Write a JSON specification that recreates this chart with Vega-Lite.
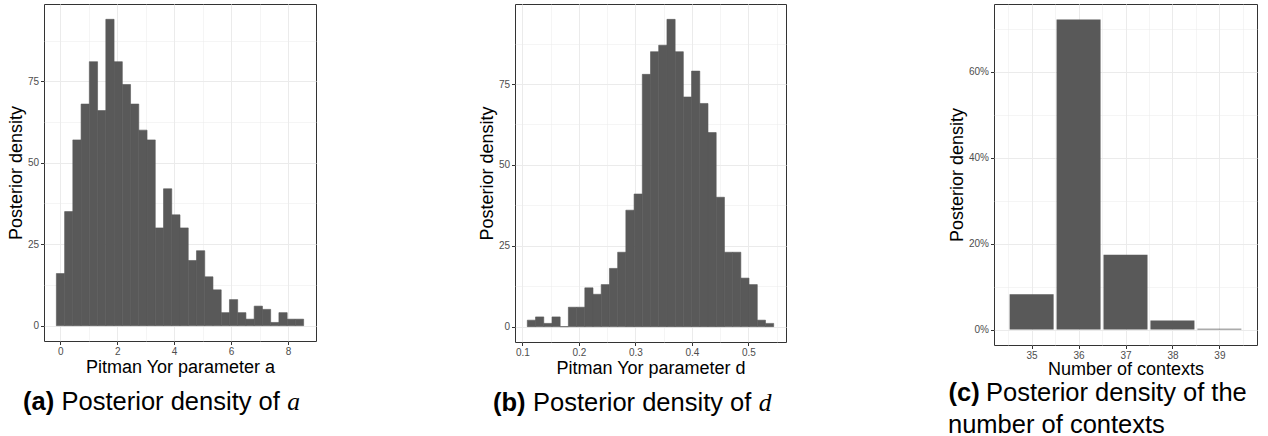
{
  "$schema": "https://vega.github.io/schema/vega-lite/v6.json",
  "padding": {"left": 6, "top": 3, "right": 0, "bottom": 0},
  "background": "white",
  "spacing": 160,
  "align": "none",
  "datasets": {
    "pitman_a": [
      {"bin_start": -0.140, "bin_end": 0.150, "count": 16},
      {"bin_start": 0.150, "bin_end": 0.439, "count": 35},
      {"bin_start": 0.439, "bin_end": 0.729, "count": 57},
      {"bin_start": 0.729, "bin_end": 1.019, "count": 68},
      {"bin_start": 1.019, "bin_end": 1.308, "count": 81},
      {"bin_start": 1.308, "bin_end": 1.598, "count": 66},
      {"bin_start": 1.598, "bin_end": 1.888, "count": 94},
      {"bin_start": 1.888, "bin_end": 2.178, "count": 81},
      {"bin_start": 2.178, "bin_end": 2.467, "count": 74},
      {"bin_start": 2.467, "bin_end": 2.757, "count": 68},
      {"bin_start": 2.757, "bin_end": 3.047, "count": 60},
      {"bin_start": 3.047, "bin_end": 3.336, "count": 57},
      {"bin_start": 3.336, "bin_end": 3.626, "count": 30},
      {"bin_start": 3.626, "bin_end": 3.916, "count": 42},
      {"bin_start": 3.916, "bin_end": 4.206, "count": 34},
      {"bin_start": 4.206, "bin_end": 4.495, "count": 30},
      {"bin_start": 4.495, "bin_end": 4.785, "count": 20},
      {"bin_start": 4.785, "bin_end": 5.075, "count": 23},
      {"bin_start": 5.075, "bin_end": 5.364, "count": 15},
      {"bin_start": 5.364, "bin_end": 5.654, "count": 11},
      {"bin_start": 5.654, "bin_end": 5.944, "count": 4},
      {"bin_start": 5.944, "bin_end": 6.233, "count": 8},
      {"bin_start": 6.233, "bin_end": 6.523, "count": 4},
      {"bin_start": 6.523, "bin_end": 6.813, "count": 2},
      {"bin_start": 6.813, "bin_end": 7.103, "count": 6},
      {"bin_start": 7.103, "bin_end": 7.392, "count": 5},
      {"bin_start": 7.392, "bin_end": 7.682, "count": 1},
      {"bin_start": 7.682, "bin_end": 7.972, "count": 4},
      {"bin_start": 7.972, "bin_end": 8.261, "count": 2},
      {"bin_start": 8.261, "bin_end": 8.551, "count": 2}
    ],
    "pitman_d": [
      {"bin_start": 0.1088, "bin_end": 0.1233, "count": 2},
      {"bin_start": 0.1233, "bin_end": 0.1379, "count": 3},
      {"bin_start": 0.1379, "bin_end": 0.1524, "count": 1},
      {"bin_start": 0.1524, "bin_end": 0.1669, "count": 3},
      {"bin_start": 0.1669, "bin_end": 0.1814, "count": 0},
      {"bin_start": 0.1814, "bin_end": 0.1960, "count": 6},
      {"bin_start": 0.1960, "bin_end": 0.2105, "count": 6},
      {"bin_start": 0.2105, "bin_end": 0.2250, "count": 12},
      {"bin_start": 0.2250, "bin_end": 0.2395, "count": 10},
      {"bin_start": 0.2395, "bin_end": 0.2541, "count": 13},
      {"bin_start": 0.2541, "bin_end": 0.2686, "count": 18},
      {"bin_start": 0.2686, "bin_end": 0.2831, "count": 23},
      {"bin_start": 0.2831, "bin_end": 0.2977, "count": 36},
      {"bin_start": 0.2977, "bin_end": 0.3122, "count": 41},
      {"bin_start": 0.3122, "bin_end": 0.3267, "count": 78},
      {"bin_start": 0.3267, "bin_end": 0.3412, "count": 85},
      {"bin_start": 0.3412, "bin_end": 0.3558, "count": 87},
      {"bin_start": 0.3558, "bin_end": 0.3703, "count": 95},
      {"bin_start": 0.3703, "bin_end": 0.3848, "count": 85},
      {"bin_start": 0.3848, "bin_end": 0.3993, "count": 71},
      {"bin_start": 0.3993, "bin_end": 0.4139, "count": 79},
      {"bin_start": 0.4139, "bin_end": 0.4284, "count": 69},
      {"bin_start": 0.4284, "bin_end": 0.4429, "count": 60},
      {"bin_start": 0.4429, "bin_end": 0.4575, "count": 40},
      {"bin_start": 0.4575, "bin_end": 0.4720, "count": 23},
      {"bin_start": 0.4720, "bin_end": 0.4865, "count": 23},
      {"bin_start": 0.4865, "bin_end": 0.5010, "count": 15},
      {"bin_start": 0.5010, "bin_end": 0.5156, "count": 13},
      {"bin_start": 0.5156, "bin_end": 0.5301, "count": 2},
      {"bin_start": 0.5301, "bin_end": 0.5446, "count": 1}
    ],
    "contexts": [
      {"contexts": 35, "density": 0.082},
      {"contexts": 36, "density": 0.721},
      {"contexts": 37, "density": 0.174},
      {"contexts": 38, "density": 0.021},
      {"contexts": 39, "density": 0.002}
    ]
  },
  "config": {
    "font": "Liberation Sans",
    "view": {"stroke": "#333333", "strokeWidth": 1},
    "axis": {
      "labelFont": "Liberation Sans",
      "labelFontSize": 10,
      "labelColor": "#4d4d4d",
      "labelPadding": 2,
      "labelFlush": false,
      "labelOverlap": false,
      "tickColor": "#333333",
      "tickSize": 3.5,
      "tickWidth": 1,
      "domain": false,
      "gridColor": "#ebebeb",
      "titleFont": "Liberation Sans",
      "titleFontSize": 18,
      "titleFontWeight": "normal",
      "titleColor": "#000000",
      "titlePadding": 2
    },
    "title": {
      "font": "Liberation Sans",
      "fontSize": 25.5,
      "fontWeight": "normal",
      "color": "#000000",
      "orient": "bottom",
      "frame": "bounds"
    }
  },
  "hconcat": [
    {
      "title": {"text": "a", "font": "Liberation Serif", "fontStyle": "italic", "anchor": "middle", "dx": 132, "offset": -25.5},
      "vconcat": [
        {
          "title": {"text": "Posterior density of", "anchor": "middle", "dx": 9, "offset": -25.5},
          "vconcat": [
            {
              "width": 272,
              "height": 337,
              "data": {"name": "pitman_a"},
              "title": {"text": "(a)", "fontWeight": "bold", "anchor": "middle", "dx": -123, "offset": 13},
              "mark": {"type": "bar", "color": "#595959", "stroke": "#595959", "strokeWidth": 0.6},
              "encoding": {
                "x": {
                  "field": "bin_start",
                  "type": "quantitative",
                  "scale": {"domain": [-0.5746, 8.9856], "nice": false, "zero": false},
                  "axis": {
                    "title": "Pitman Yor parameter a",
                    "values": [0, 1, 2, 3, 4, 5, 6, 7, 8],
                    "format": "d",
                    "labelExpr": "datum.value % 2 == 0 ? datum.label : ''",
                    "tickOpacity": {"condition": {"test": "datum.value % 2 != 0", "value": 0}, "value": 1},
                    "gridWidth": {"condition": {"test": "datum.value % 2 != 0", "value": 0.5}, "value": 1}
                  }
                },
                "x2": {"field": "bin_end"},
                "y": {
                  "field": "count",
                  "type": "quantitative",
                  "scale": {"domain": [-4.7, 98.7], "nice": false, "zero": false},
                  "axis": {
                    "title": "Posterior density",
                    "values": [0, 12.5, 25, 37.5, 50, 62.5, 75, 87.5],
                    "format": "d",
                    "labelExpr": "datum.value % 25 == 0 ? datum.label : ''",
                    "tickOpacity": {"condition": {"test": "datum.value % 25 != 0", "value": 0}, "value": 1},
                    "gridWidth": {"condition": {"test": "datum.value % 25 != 0", "value": 0.5}, "value": 1}
                  }
                },
                "y2": {"datum": 0}
              }
            }
          ]
        }
      ]
    },
    {
      "title": {"text": "d", "font": "Liberation Serif", "fontStyle": "italic", "anchor": "middle", "dx": 133, "offset": -25.5},
      "vconcat": [
        {
          "title": {"text": "Posterior density of", "anchor": "middle", "dx": 10, "offset": -25.5},
          "vconcat": [
            {
              "width": 271,
              "height": 338,
              "data": {"name": "pitman_d"},
              "title": {"text": "(b)", "fontWeight": "bold", "anchor": "middle", "dx": -123, "offset": 13},
              "mark": {"type": "bar", "color": "#595959", "stroke": "#595959", "strokeWidth": 0.6},
              "encoding": {
                "x": {
                  "field": "bin_start",
                  "type": "quantitative",
                  "scale": {"domain": [0.087, 0.5664], "nice": false, "zero": false},
                  "axis": {
                    "title": "Pitman Yor parameter d",
                    "values": [0.1, 0.15, 0.2, 0.25, 0.3, 0.35, 0.4, 0.45, 0.5, 0.55],
                    "format": ".1f",
                    "labelExpr": "round(datum.value * 100) % 10 == 0 ? datum.label : ''",
                    "tickOpacity": {"condition": {"test": "round(datum.value * 100) % 10 != 0", "value": 0}, "value": 1},
                    "gridWidth": {"condition": {"test": "round(datum.value * 100) % 10 != 0", "value": 0.5}, "value": 1}
                  }
                },
                "x2": {"field": "bin_end"},
                "y": {
                  "field": "count",
                  "type": "quantitative",
                  "scale": {"domain": [-4.75, 99.75], "nice": false, "zero": false},
                  "axis": {
                    "title": "Posterior density",
                    "values": [0, 12.5, 25, 37.5, 50, 62.5, 75, 87.5],
                    "format": "d",
                    "labelExpr": "datum.value % 25 == 0 ? datum.label : ''",
                    "tickOpacity": {"condition": {"test": "datum.value % 25 != 0", "value": 0}, "value": 1},
                    "gridWidth": {"condition": {"test": "datum.value % 25 != 0", "value": 0.5}, "value": 1}
                  }
                },
                "y2": {"datum": 0}
              }
            }
          ]
        }
      ]
    },
    {
      "title": {"text": "number of contexts", "anchor": "start", "offset": 6},
      "vconcat": [
        {
          "title": {"text": "Posterior density of the", "anchor": "start", "dx": 38, "offset": -25.5},
          "vconcat": [
            {
              "width": 263,
              "height": 341,
              "data": {"name": "contexts"},
              "title": {"text": "(c)", "fontWeight": "bold", "anchor": "start", "offset": 2},
              "mark": {"type": "bar", "color": "#595959", "width": 44},
              "encoding": {
                "x": {
                  "field": "contexts",
                  "type": "quantitative",
                  "scale": {"domain": [34.305, 39.695], "nice": false, "zero": false},
                  "axis": {
                    "title": "Number of contexts",
                    "titlePadding": 0,
                    "values": [34.5, 35, 35.5, 36, 36.5, 37, 37.5, 38, 38.5, 39, 39.5],
                    "format": ".0f",
                    "labelExpr": "round(datum.value * 2) % 2 == 0 ? datum.label : ''",
                    "tickOpacity": {"condition": {"test": "round(datum.value * 2) % 2 != 0", "value": 0}, "value": 1},
                    "gridWidth": {"condition": {"test": "round(datum.value * 2) % 2 != 0", "value": 0.5}, "value": 1}
                  }
                },
                "y": {
                  "field": "density",
                  "type": "quantitative",
                  "scale": {"domain": [-0.036, 0.757], "nice": false, "zero": false},
                  "axis": {
                    "title": "Posterior density",
                    "values": [0, 0.1, 0.2, 0.3, 0.4, 0.5, 0.6, 0.7],
                    "format": ".0%",
                    "labelExpr": "round(datum.value * 10) % 2 == 0 ? datum.label : ''",
                    "tickOpacity": {"condition": {"test": "round(datum.value * 10) % 2 != 0", "value": 0}, "value": 1},
                    "gridWidth": {"condition": {"test": "round(datum.value * 10) % 2 != 0", "value": 0.5}, "value": 1}
                  }
                },
                "y2": {"datum": 0}
              }
            }
          ]
        }
      ]
    }
  ]
}
